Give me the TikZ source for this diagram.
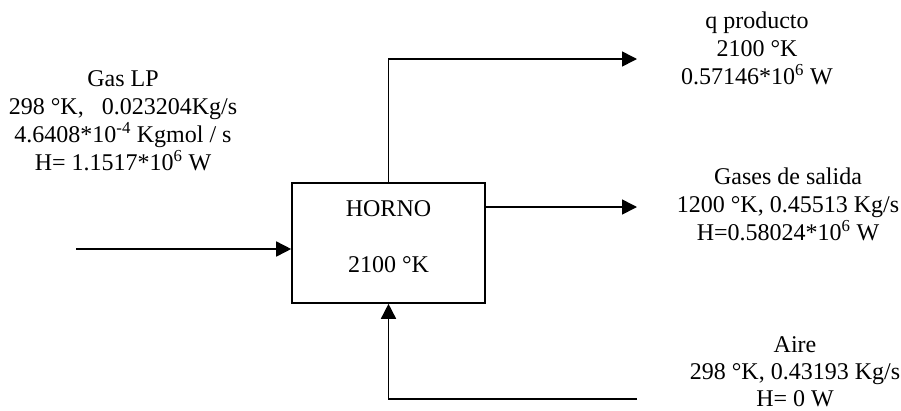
\documentclass[tikz,border=0pt]{standalone}
\usepackage{fontspec}
\setmainfont{Liberation Serif}
\usetikzlibrary{arrows.meta}
\begin{document}
\begin{tikzpicture}[x=1pt,y=-1pt,
  lbl/.style={font=\fontsize{24}{28}\selectfont, align=center, inner sep=0pt, anchor=north},
  one/.style={font=\fontsize{24}{28}\selectfont, inner sep=0pt, anchor=base},
  flow/.style={line width=1.6pt},
  arr/.style={flow, -{Triangle[length=15pt,width=15pt]}},
  boxst/.style={draw, line width=1.6pt, minimum width=193pt, minimum height=120pt, inner sep=0pt}]
\useasboundingbox (0,0) rectangle (901,410);
\node[boxst] (horno) at (388.5,243) {};
\node[one] (t1) at (388.5,216) {HORNO};
\node[one] (t2) at (388.5,272) {2100 °K};
% texts
\node[lbl] (gas) at (123,70) {Gas LP\\298 °K,\ \ \ 0.023204Kg/s\\4.6408*10\textsuperscript{-4} Kgmol / s\\H= 1.1517*10\textsuperscript{6} W};
\node[lbl] (q) at (757,12) {q producto\\2100 °K\\0.57146*10\textsuperscript{6} W};
\node[lbl] (gs) at (788,168) {Gases de salida\\1200 °K, 0.45513 Kg/s\\H=0.58024*10\textsuperscript{6} W};
\node[lbl, font=\fontsize{24}{27}\selectfont] (aire) at (795,336) {Aire\\298 °K, 0.43193 Kg/s\\H= 0 W};
% connector ends
\coordinate (gin) at (76,249);
\coordinate (qtip) at (637,59);
\coordinate (gtip) at (637,207);
\coordinate (aend) at (637,399);
\draw[arr] (gin) -- (gin -| horno.west);
\draw[arr] (horno.north) |- (qtip);
\draw[arr] (horno.east |- gtip) -- (gtip);
\draw[arr] (aend) -| (horno.south);
\end{tikzpicture}
\end{document}
